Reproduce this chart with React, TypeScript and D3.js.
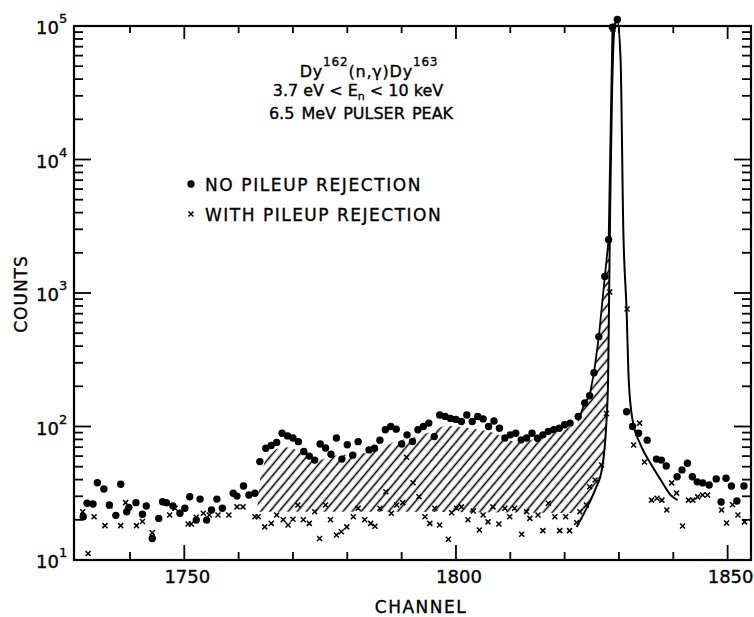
import React from "react";
import * as d3 from "d3";

// ---------- data ----------
const dotChannels = [
  1731.4, 1732.1, 1733.2, 1734.0, 1735.2, 1736.2, 1737.4, 1738.3, 1739.4, 1739.8,
  1741.1, 1742.3, 1743.0, 1744.1, 1745.3, 1746.0, 1746.7, 1747.9, 1749.2, 1750.1,
  1751.0, 1752.2, 1752.9, 1754.1, 1755.0, 1756.0, 1757.0, 1759.0, 1759.7, 1760.9,
  1761.9, 1763.0, 1763.9,
  1765, 1766, 1767, 1768, 1769, 1770, 1771, 1772, 1773, 1774, 1775, 1776, 1777, 1778,
  1779, 1780, 1781, 1782, 1784, 1785, 1786, 1787, 1788, 1789, 1790, 1791, 1792, 1793,
  1794, 1795, 1796, 1797, 1798, 1799, 1800, 1801, 1802, 1803, 1804, 1805, 1806, 1807,
  1808, 1809, 1810, 1811, 1812, 1813, 1814, 1815, 1816, 1817, 1818, 1819, 1820, 1821,
  1822.5, 1823.7, 1824.6, 1825.4, 1826.3, 1827.4, 1828.1, 1828.8, 1829.7,
  1831.4, 1832.5, 1833.6, 1835.2, 1836.9, 1837.8, 1838.7, 1840.7, 1841.6, 1842.6,
  1843.5, 1844.4, 1845.4, 1846.6, 1847.9, 1848.8, 1849.7, 1850.7, 1851.7, 1853.0,
];
const dotCounts = [
  21.1, 26.6, 26.3, 37.9, 34.0, 25.8, 21.6, 36.9, 23.0, 24.8,
  26.9, 22.0, 25.4, 14.5, 20.5, 27.3, 26.9, 25.4, 22.4, 24.4,
  29.8, 19.9, 28.6, 19.9, 23.7, 28.6, 24.4, 31.6, 30.1, 35.8,
  30.7, 31.6, 54.6,
  68.8, 72, 76, 89, 85, 82, 77, 65, 60, 56, 74, 69, 62, 82,
  57, 73, 61, 77, 66.8, 68.8, 79, 94.5, 100, 95.5, 74, 86.6, 77.3, 94.5,
  100, 106, 84, 122, 119, 115, 113, 109, 122, 109, 119, 114, 100, 110,
  97, 82, 86.6, 89, 79.4, 82, 89, 81.7, 86.6, 92, 94.5, 97, 103, 106,
  119, 150, 170, 253, 471, 1330, 2510, 98000, 112000,
  129, 100, 89, 79, 57, 56, 50.6, 42, 47.3, 53,
  42, 38.5, 37.8, 36.5, 40.5, 27.2, 41, 35.8, 27.7, 35.8,
];

const crossChannels = [
  1731.3, 1732.3, 1733.4, 1735.4, 1736.3, 1738.3, 1739.2, 1741.2, 1742.3, 1744.1,
  1747.3, 1748.3, 1750.7, 1751.3, 1752.2, 1753.5, 1754.6, 1756.2, 1758.2, 1759.7,
  1760.8, 1763.0, 1763.6,
  1764.8, 1766.0, 1767.0, 1768.2, 1769.1, 1770.0, 1770.9, 1771.9, 1773.0, 1774.0,
  1774.9, 1776.0, 1776.9, 1778.0, 1778.9, 1779.9, 1781.1, 1782.0, 1783.2, 1784.3,
  1785.1, 1786.0, 1787.1, 1788.1, 1789.1, 1790.2, 1790.9, 1792.1, 1793.2, 1794.3,
  1795.2, 1796.1, 1797.0, 1798.6, 1799.2, 1800.1, 1801.0, 1802.2, 1803.2, 1804.3,
  1805.0, 1805.9, 1806.8, 1807.9,
  1809.0, 1809.9, 1810.8, 1812.1, 1813.0, 1813.6, 1815.1, 1816.0, 1817.0, 1818.2,
  1819.1, 1820.2, 1820.9, 1822.2, 1822.8, 1824.0, 1824.6, 1825.6, 1826.8, 1827.7,
  1828.3, 1828.9, 1831.5,
  1832.7, 1833.8, 1834.7, 1836.0, 1837.0, 1837.9, 1838.8, 1839.7, 1840.6, 1841.7,
  1842.8, 1843.6, 1844.5, 1845.4, 1846.3, 1848.9, 1849.8, 1850.9, 1851.9, 1853.1,
];
const crossCounts = [
  23.0, 11.2, 21.1, 18.1, 25.4, 18.1, 26.9, 18.1, 19.4, 16.0,
  21.7, 24.4, 18.6, 18.6, 20.9, 22.4, 21.7, 21.7, 21.7, 25.0,
  25.0, 21.1, 21.1,
  17.7, 18.8, 21.7, 20.0, 18.3, 20.2, 25.8, 20.0, 18.8, 23.0,
  14.5, 25.8, 20.0, 15.4, 16.3, 17.7, 21.1, 24.4, 20.0, 18.8,
  17.9, 24.4, 32.5, 22.4, 25.8, 26.9, 58.9, 37.9, 29.8, 21.1,
  18.8, 24.4, 18.3, 14.3, 22.6, 24.4, 25.0, 20.0, 23.3, 16.8,
  21.7, 19.3, 25.0, 18.6,
  24.4, 21.1, 24.4, 15.6, 23.0, 20.5, 21.7, 16.6, 26.6, 21.1,
  16.6, 21.1, 16.6, 19.1, 23.0, 25.8, 35.4, 39.8, 51.5, 125,
  1016, 95000, 758,
  72.6, 106, 54.2, 28.1, 29.0, 28.1, 23.7, 37.8, 31.7, 18.0,
  28.1, 28.1, 29.7, 30.7, 30.7, 23.7, 18.9, 25.9, 21.7, 19.3,
];

// fitted pulser line shape (solid curve)
const fitChannels = [1822.2, 1823.7, 1825.6, 1826.9, 1827.6, 1828.0, 1828.2, 1828.4, 1828.7, 1829.2, 1829.7,
  1830.3, 1830.8, 1831.4, 1831.8, 1832.5, 1834.0, 1835.8, 1837.7, 1839.5, 1840.8];
const fitCounts = [17.7, 22.9, 33.5, 48.9, 94, 222, 1050, 4970, 28000, 98000, 110000,
  55600, 2950, 745, 222, 112, 72.6, 53, 39.7, 30.7, 28.1];

// line joining the no-rejection points on the rising edge
const edgeChannels = [1822.5, 1823.7, 1824.6, 1825.4, 1826.3, 1827.4, 1828.1, 1828.8, 1829.7];
const edgeCounts = [110, 150, 170, 253, 471, 1330, 2510, 98000, 112000];

// hatched pileup region: upper and lower boundaries
const hatchTopChannels = [1763.5, 1764, 1765, 1767, 1769, 1771, 1773, 1775, 1778, 1781, 1784, 1786, 1789,
  1792, 1795, 1798, 1802, 1806, 1808, 1810, 1813, 1816, 1819, 1821, 1822.5, 1823.7, 1824.6, 1825.4,
  1826.3, 1827.4, 1828.1, 1828.7];
const hatchTopCounts = [27, 42, 58, 68, 70, 66, 57, 56, 61, 62, 64, 68, 78,
  82, 90, 102, 98, 92, 86, 78, 77, 86, 90, 100, 110, 145, 165, 245,
  455, 1290, 2450, 28000];
const hatchBottomChannels = [1763.5, 1790, 1822, 1823.7, 1825.6, 1826.9, 1827.6, 1828.0, 1828.2, 1828.4, 1828.7];
const hatchBottomCounts = [23, 23, 22.5, 23, 33.5, 48.9, 94, 222, 1050, 4970, 28000];

const xMinorTicks = [1740, 1750, 1760, 1770, 1780, 1790, 1800, 1810, 1820, 1830, 1840, 1850];
const xTickLabels = [1750, 1800, 1850];
const yDecadeExponents = [1, 2, 3, 4, 5];
const yMinorMultipliers = [2, 3, 4, 5, 6, 7, 8, 9];

const FONT = "'DejaVu Sans', sans-serif";
const INK = { stroke: "#000", strokeWidth: 0.35 };

export default function App() {
  const left = 74, right = 751, top = 26, bottom = 560;
  const x = d3.scaleLinear().domain([1729.7, 1854.3]).range([left, right]);
  const y = d3.scaleLog().domain([10, 1e5]).range([bottom, top]);

  const dots = dotChannels.map((c, i) => [x(c), y(dotCounts[i])]);
  const crosses = crossChannels.map((c, i) => [x(c), y(crossCounts[i])]);

  const fitLine = d3.line().curve(d3.curveMonotoneX)(
    fitChannels.map((c, i) => [x(c), y(fitCounts[i])]) as [number, number][]
  );
  const edgeLine = d3.line()(edgeChannels.map((c, i) => [x(c), y(edgeCounts[i])]) as [number, number][]);

  const topPts = hatchTopChannels.map((c, i) => [x(c), y(hatchTopCounts[i])]);
  const botPts = hatchBottomChannels.map((c, i) => [x(c), y(hatchBottomCounts[i])]).reverse();
  const hatchPath = d3.line()([...topPts, ...botPts] as [number, number][]) + "Z";

  const yTicks: { v: number; major: boolean }[] = [];
  yDecadeExponents.forEach((e) => {
    yTicks.push({ v: Math.pow(10, e), major: true });
    if (e < 5) yMinorMultipliers.forEach((m) => yTicks.push({ v: m * Math.pow(10, e), major: false }));
  });

  return (
    <svg width={754} height={617} style={{ position: "absolute", left: 0, top: 0, background: "#fff" }}
      fontFamily={FONT}>
      <defs>
        <pattern id="hatch" width={7} height={10} patternUnits="userSpaceOnUse" patternTransform="rotate(40)">
          <line x1={3.5} y1={0} x2={3.5} y2={10} stroke="#000" strokeWidth={1.6} />
        </pattern>
      </defs>
      <rect width={754} height={617} fill="#fff" />

      {/* hatched region */}
      <path d={hatchPath} fill="url(#hatch)" stroke="none" />

      {/* frame */}
      <rect x={left} y={top} width={right - left} height={bottom - top} fill="none" stroke="#000" strokeWidth={2.2} />

      {/* x ticks bottom & top */}
      {xMinorTicks.map((t) => {
        const major = xTickLabels.includes(t);
        return (
          <g key={"xt" + t}>
            <line x1={x(t)} x2={x(t)} y1={bottom} y2={bottom - (major ? 15 : 8)} stroke="#000" strokeWidth={1.8} />
            <line x1={x(t)} x2={x(t)} y1={top} y2={top + (major ? 13 : 7)} stroke="#000" strokeWidth={1.8} />
          </g>
        );
      })}
      {xTickLabels.map((t) => (
        <text key={"xl" + t} x={x(t) + 3} y={583} textAnchor="middle" fontSize={18} {...INK}>{t}</text>
      ))}

      {/* y ticks left & right */}
      {yTicks.map((t, i) => (
        <g key={"yt" + i}>
          <line x1={left} x2={left + (t.major ? 17 : 9)} y1={y(t.v)} y2={y(t.v)} stroke="#000" strokeWidth={1.8} />
          <line x1={right} x2={right - (t.major ? 17 : 9)} y1={y(t.v)} y2={y(t.v)} stroke="#000" strokeWidth={1.8} />
        </g>
      ))}
      {yDecadeExponents.map((e) => (
        <text key={"yl" + e} x={36} y={y(Math.pow(10, e)) + 8} fontSize={18} {...INK}>
          10<tspan dy={-11} fontSize={13}>{e}</tspan>
        </text>
      ))}

      {/* axis titles */}
      <text x={421} y={613} textAnchor="middle" fontSize={17} letterSpacing={1.5} {...INK}>CHANNEL</text>
      <text transform="translate(27,294) rotate(-90)" textAnchor="middle" fontSize={17} letterSpacing={1} {...INK}>COUNTS</text>

      {/* fitted curve and edge */}
      <path d={fitLine || ""} fill="none" stroke="#000" strokeWidth={2} />
      <path d={edgeLine || ""} fill="none" stroke="#000" strokeWidth={1.8} />

      {/* data */}
      {dots.map((p, i) => (
        <circle key={"d" + i} cx={p[0]} cy={p[1]} r={3.7} fill="#000" />
      ))}
      {crosses.map((p, i) => (
        <path key={"c" + i} d={`M${p[0] - 2.5},${p[1] - 2.5}L${p[0] + 2.5},${p[1] + 2.5}M${p[0] - 2.5},${p[1] + 2.5}L${p[0] + 2.5},${p[1] - 2.5}`}
          stroke="#000" strokeWidth={1.5} fill="none" />
      ))}

      {/* annotation */}
      <g fontSize={16} textAnchor="middle" {...INK}>
        <text x={369} y={77} letterSpacing={0.8}>
          Dy<tspan dy={-11} fontSize={12}>162</tspan><tspan dy={11}>(n,γ)Dy</tspan><tspan dy={-11} fontSize={12}>163</tspan>
        </text>
        <text x={358} y={96}>
          3.7 eV &lt; E<tspan dy={4} fontSize={11}>n</tspan><tspan dy={-4}> &lt; 10 keV</tspan>
        </text>
        <text x={361} y={119} wordSpacing={2}>6.5 MeV PULSER PEAK</text>
      </g>

      {/* legend */}
      <circle cx={191} cy={184} r={3.7} fill="#000" />
      <text x={205} y={191} fontSize={17} letterSpacing={1.6} {...INK}>NO PILEUP REJECTION</text>
      <path d="M188.5,211.5L193.5,216.5M188.5,216.5L193.5,211.5" stroke="#000" strokeWidth={1.5} />
      <text x={205} y={221} fontSize={17} letterSpacing={1.5} {...INK}>WITH PILEUP REJECTION</text>
    </svg>
  );
}
